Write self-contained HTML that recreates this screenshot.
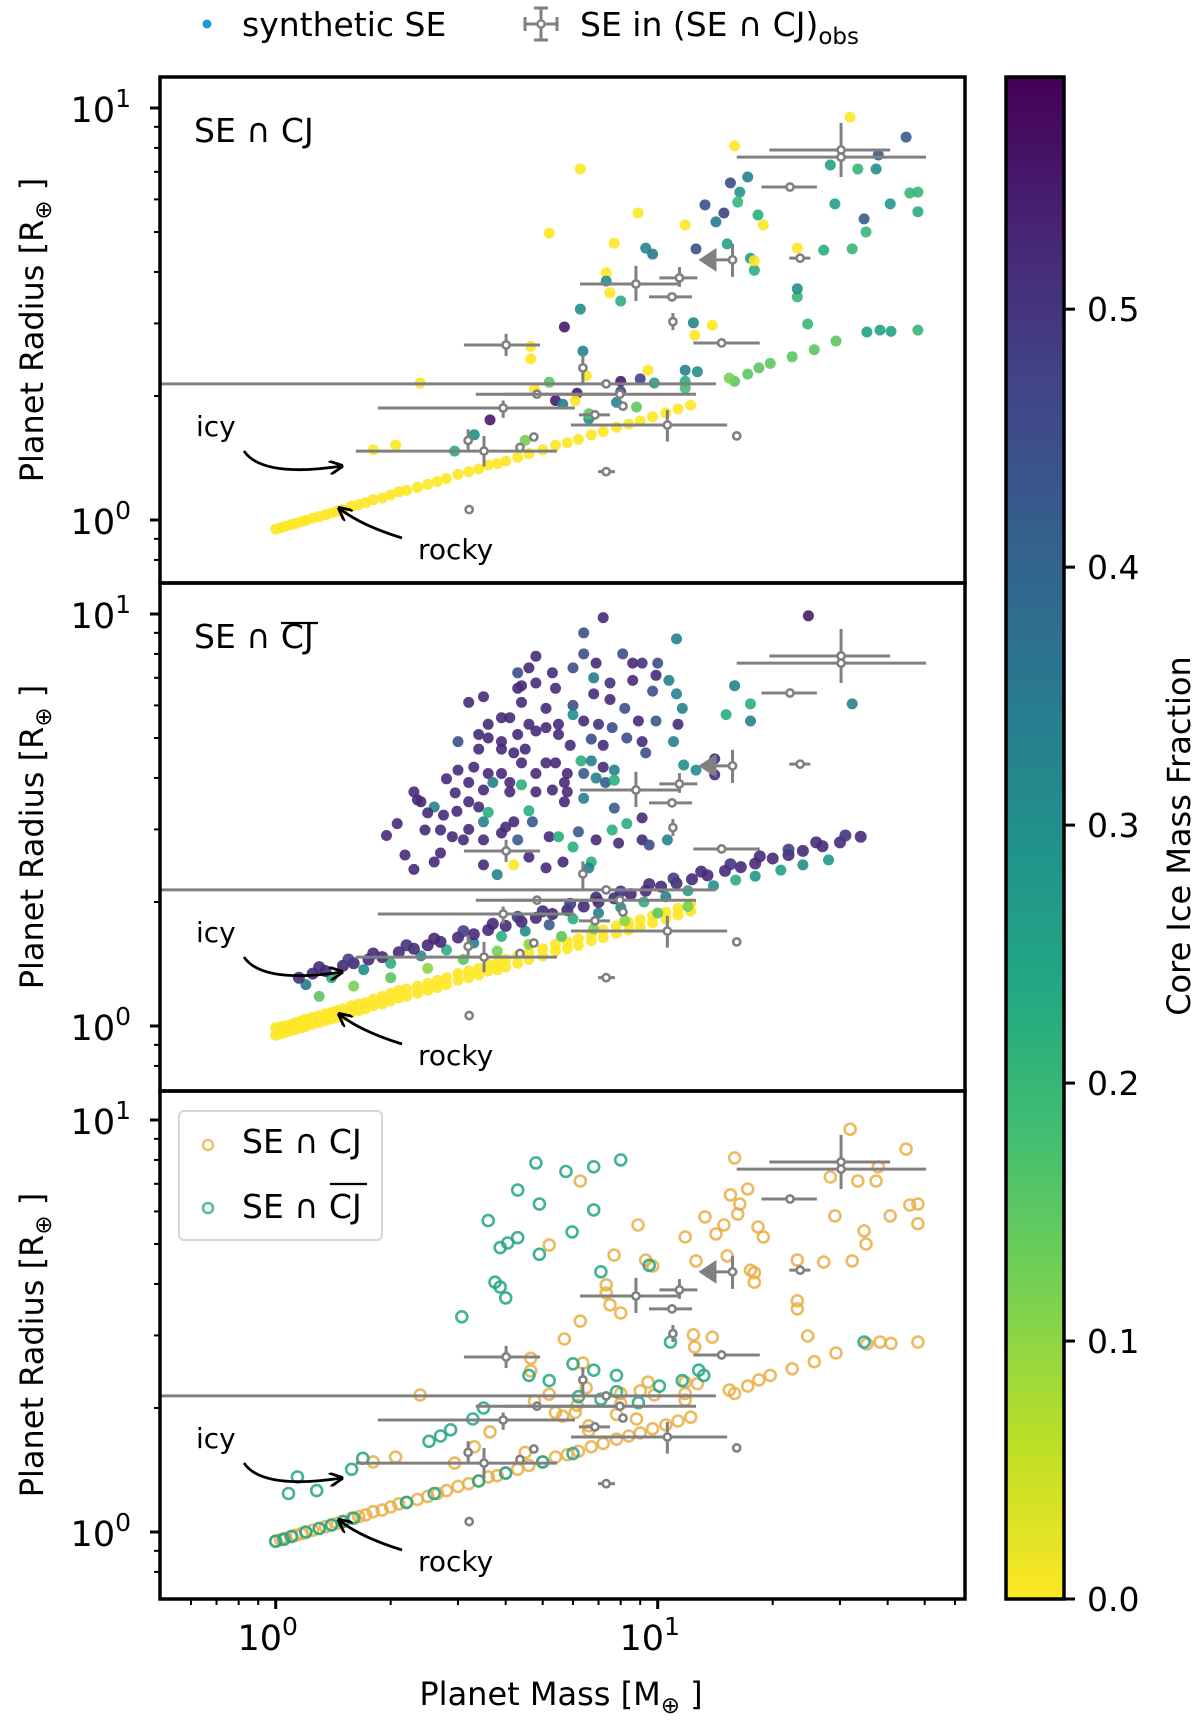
<!DOCTYPE html>
<html><head><meta charset="utf-8"><style>
html,body{margin:0;padding:0;background:#fff}
svg{display:block}
text{font-family:"DejaVu Sans","Liberation Sans",sans-serif;fill:#000}
</style></head><body>
<svg id="chart" width="1200" height="1727" viewBox="0 0 1200 1727" xmlns="http://www.w3.org/2000/svg">
<defs>
<linearGradient id="cbgrad" x1="0" y1="1" x2="0" y2="0">
<stop offset="0" stop-color="#fde725"/><stop offset="0.1" stop-color="#bddf26"/><stop offset="0.2" stop-color="#7ad151"/><stop offset="0.3" stop-color="#44bf70"/><stop offset="0.4" stop-color="#22a884"/><stop offset="0.5" stop-color="#21918c"/><stop offset="0.6" stop-color="#2a788e"/><stop offset="0.7" stop-color="#355f8d"/><stop offset="0.8" stop-color="#414487"/><stop offset="0.9" stop-color="#482475"/><stop offset="1" stop-color="#440154"/>
</linearGradient>
<marker id="arrow" viewBox="0 0 10 10" refX="9" refY="5" markerWidth="5" markerHeight="5" orient="auto"><path d="M0,0 L10,5 L0,10" fill="none" stroke="#000" stroke-width="2"/></marker>
<clipPath id="clip0"><rect x="160" y="79" width="805" height="504"/></clipPath>
<clipPath id="clip1"><rect x="160" y="585" width="805" height="504"/></clipPath>
<clipPath id="clip2"><rect x="160" y="1093" width="805" height="504"/></clipPath>
</defs>
<g id="layer"></g>
</svg>
<script>
// ---------------- data ----------------
const rockyM=[1.0,1.03,1.06,1.1,1.13,1.17,1.2,1.25,1.3,1.35,1.4,1.45,1.5,1.58,1.65,1.72,1.8,1.9,2.0,2.1,2.2,2.35,2.5,2.65,2.8,3.0,3.2,3.4,3.6,3.8,4.0,4.3,4.6,5.0,5.4,5.8,6.2,6.7,7.2,7.8,8.4,9.0,9.7,10.5,11.3,12.2];
const rockyR=[.95,.958,.965,.975,.982,.991,.998,1.01,1.02,1.03,1.04,1.05,1.06,1.08,1.09,1.10,1.12,1.13,1.15,1.17,1.18,1.20,1.22,1.24,1.26,1.29,1.31,1.33,1.36,1.37,1.39,1.42,1.45,1.48,1.52,1.54,1.57,1.61,1.64,1.68,1.71,1.74,1.78,1.82,1.86,1.90];
const rockyRHi=[.99,.996,1.00,1.01,1.02,1.03,1.04,1.05,1.06,1.07,1.08,1.09,1.10,1.12,1.13,1.14,1.16,1.18,1.20,1.22,1.23,1.25,1.27,1.29,1.31,1.34,1.36,1.38,1.41,1.42,1.45,1.48,1.51,1.54,1.58,1.60,1.63,1.67,1.71,1.75,1.78,1.81,1.85,1.89,1.93,1.98];
const cjM=[31.9,44.7,15.9,37.8,28.3,33.4,37.3,6.27,15.5,17.2,16.4,16.2,45.7,29.1,40.6,13.3,14.9,14.2,8.88,11.8,18.9,18.3,34.7,35.1,7.69,9.3,9.7,15.2,12.6,27.2,32.3,17.9,17.5,23.2,17.9,7.33,7.33,7.5,8.0,23.2,23.2,6.27,12.4,13.9,24.7,5.7,5.2,48,48,35.3,38.2,40.8,48,29.3,25.7,22.5,19.7,18.4,17.2,15.9,6.37,4.65,12.5,9.43,11.8,12.7,9.0,8.0,11.8,11.8,9.8,15.4,5.2,6.5,4.76,6.15,8.0,6.08,5.4,5.64,7.8,8.8,6.6,6.6,3.64,3.31,2.94,4.5,2.39,4.65,1.8,2.06];
const cjR=[9.5,8.5,8.09,7.69,7.27,7.11,7.11,7.11,6.58,6.8,6.25,5.91,6.22,5.85,5.85,5.82,5.56,5.29,5.56,5.2,5.2,5.5,5.38,5.0,4.7,4.57,4.42,4.68,4.55,4.52,4.55,4.04,4.32,4.57,4.26,3.98,3.8,3.56,3.4,3.48,3.64,3.25,3.01,2.97,2.99,2.94,4.97,6.25,5.6,2.86,2.89,2.87,2.89,2.72,2.59,2.49,2.4,2.34,2.26,2.17,2.57,2.64,2.81,2.31,2.31,2.29,2.2,2.17,2.17,2.09,2.15,2.21,2.16,2.24,2.08,2.03,2.05,1.95,1.95,1.91,1.93,1.88,1.76,1.81,1.75,1.61,1.47,1.56,2.15,2.46,1.48,1.52];
const cjC=[0,.42,0,.42,.25,.2,.3,0,.45,.33,.28,.2,.2,.25,.28,.45,.48,.35,0,0,0,.22,.42,.2,0,.32,.35,.25,.45,.22,.2,.22,.25,0,0,0,.3,0,.22,.2,.3,.3,.32,0,.2,.55,0,.2,.22,.25,.25,.25,.2,.15,.15,.15,.15,.15,.15,.15,.32,0,0,0,.33,.3,.48,.55,.22,.18,.25,.12,.15,0,0,.55,.45,0,.55,.35,.32,.15,.3,.15,.55,.3,.22,.12,0,0,0,0];
const cloudM=[7.2,6.4,11.2,6.4,8.1,4.8,6.9,8.6,9.1,10,4.6,5.3,6.0,4.3,6.8,8.6,9.9,10.7,4.8,4.4,7.5,5.4,4.3,9.7,6.8,3.2,3.5,4.4,5.1,6.0,7.5,11.2,8.2,11.6,3.9,4.1,4.6,5.1,5.5,6.0,6.4,7.0,7.6,8.9,9.9,11.3,3.6,3.4,3.6,3.9,4.3,4.8,5.5,5.9,6.7,7.2,8.3,9.1,11.0,3.0,3.4,3.9,4.2,4.5,5.1,5.4,6.3,6.7,7.2,9.3,11.7,3.0,3.3,3.6,3.9,4.4,4.8,5.8,6.4,7.7,2.8,3.2,3.7,4.1,4.4,5.7,6.9,7.3,7.7,2.3,2.95,3.5,4.1,4.8,5.3,5.8,2.35,2.4,2.6,3.2,3.4,5.7,6.4,7.7,2.5,2.75,2.98,3.6,4.2,4.6,4.7,9.1,2.08,2.46,2.7,2.9,3.2,3.5,3.9,4.0,1.95,3.1,3.5,4.3,5.2,5.5,6.0,6.2,6.9,7.6,7.9,8.3,9.1,9.5,10.6,2.18,2.3,2.6,2.7,3.5,3.8,4.2,4.6,5.1,5.65,6.7,6.6,24.8,32.3,17.5,17.5,15.1,15.9,12.6,14.1,14.1];
const cloudR=[9.8,9.0,8.7,8.0,8.0,7.9,7.6,7.6,7.6,7.6,7.4,7.2,7.4,7.2,7.0,6.9,7.1,6.9,6.8,6.7,6.8,6.6,6.6,6.5,6.4,6.1,6.3,6.1,5.9,6.0,6.2,6.4,5.9,5.9,5.6,5.6,5.4,5.3,5.4,5.7,5.5,5.4,5.3,5.5,5.5,5.4,5.4,5.1,5.0,4.9,5.1,5.2,5.1,4.8,4.97,4.8,5.0,4.9,4.9,4.9,4.7,4.7,4.6,4.7,4.35,4.35,4.4,4.4,4.25,4.6,4.3,4.18,4.25,4.1,4.1,4.35,4.1,4.1,4.1,4.18,3.98,3.9,3.9,3.9,3.85,3.9,4.0,3.9,3.95,3.7,3.68,3.74,3.7,3.7,3.74,3.7,3.54,3.5,3.4,3.5,3.4,3.5,3.57,3.38,3.29,3.25,3.32,3.3,3.13,3.33,3.13,3.2,3.1,2.99,2.99,2.88,3.0,3.13,2.94,3.04,2.9,2.83,2.83,2.83,2.88,2.88,2.72,2.96,2.83,2.99,2.78,3.1,2.83,2.75,2.83,2.6,2.4,2.5,2.63,2.46,2.33,2.46,2.57,2.42,2.5,2.5,2.42,9.9,6.05,6.05,5.5,5.7,6.7,4.18,4.45,4.07];
const cloudC=[.52,.45,.33,.45,.45,.52,.52,.52,.5,.45,.52,.52,.45,.45,.35,.52,.52,.33,.52,.52,.5,.52,.52,.45,.52,.52,.52,.52,.52,.45,.52,.33,.45,.33,.52,.52,.52,.52,.52,.3,.52,.5,.45,.52,.42,.52,.52,.52,.52,.52,.52,.52,.52,.52,.45,.52,.45,.52,.33,.45,.52,.52,.52,.52,.52,.52,.22,.33,.52,.45,.3,.52,.52,.52,.52,.52,.52,.52,.42,.33,.52,.52,.33,.52,.22,.52,.33,.42,.22,.52,.52,.52,.52,.52,.52,.52,.52,.52,.33,.52,.52,.52,.33,.42,.52,.52,.52,.22,.52,.22,.42,.52,.52,.52,.52,.52,.52,.33,.52,.52,.52,.52,.52,.42,.52,.22,.22,.42,.52,.22,.52,.22,.52,.45,.33,.52,.52,.52,.52,.52,.33,0,.52,.52,.52,.22,.33,.55,.33,.22,.33,.22,.33,.3];
const icyM=[1.15,1.25,1.35,1.5,1.6,1.75,1.9,2.1,2.3,2.5,2.7,3.0,3.3,3.6,4.0,4.4,4.8,5.3,5.8,6.4,7.0,7.7,8.5,9.3,10.2,11.2,12.3,13.5,15,16.5,18,20,22,24,27,30,34];
const icyR=[1.31,1.34,1.36,1.40,1.42,1.45,1.47,1.51,1.54,1.57,1.60,1.64,1.67,1.71,1.75,1.79,1.83,1.87,1.91,1.95,2.00,2.04,2.09,2.13,2.18,2.22,2.27,2.32,2.38,2.43,2.48,2.55,2.60,2.66,2.73,2.79,2.88];
const icyHiM=[1.3,1.55,1.8,2.2,2.6,3.1,3.7,4.3,5.0,5.9,6.9,8.0,9.5,11,13,15.5,18.5,22,26,31];
const icyHiR=[1.39,1.45,1.50,1.57,1.63,1.70,1.77,1.84,1.90,1.98,2.05,2.12,2.21,2.28,2.37,2.47,2.58,2.68,2.79,2.90];
const icyHiC=[.52,.48,.52,.5,.52,.48,.52,.5,.52,.48,.52,.5,.52,.48,.52,.5,.52,.48,.52,.5];
const icyLoM=[1.2,1.4,1.7,2.0,2.4,2.8,3.3,3.9,4.5,5.2,6.0,7.0,8.0,9.2,10.5,12,14,16,18,21,24,28];
const icyLoR=[1.26,1.31,1.37,1.42,1.48,1.53,1.59,1.65,1.70,1.76,1.82,1.88,1.94,2.00,2.06,2.13,2.19,2.26,2.31,2.39,2.46,2.53];
const icyLoC=[.35,.22,.3,.22,.3,.22,.33,.22,.3,.42,.22,.33,.3,.22,.33,.25,.3,.22,.28,.25,.3,.28];
const icy2M=[1.3,1.6,2.0,2.5,3.1,3.8,4.6,5.6,6.8,8.2,10,12];
const icy2R=[1.18,1.25,1.31,1.38,1.45,1.52,1.58,1.65,1.72,1.80,1.88,1.95];
const icy2C=[.15,.12,.15,.1,.15,.12,.1,.15,.12,.1,.15,.12];
const cjbM=[4.8,5.75,6.8,8.0,4.3,4.9,3.6,6.8,4.05,4.3,3.87,5.97,4.9,7.1,9.5,3.75,3.87,4.0,3.07,10.8,6.0,6.8,7.8,4.6,5.2,6.2,7.1,7.8,8.9,10.1,11.6,13.2,12.8,34.7,3.28,3.5,2.7,2.87,2.52,1.69,1.58,1.14,1.28,1.08,1.0,1.05,1.1,1.2,1.3,1.4,1.5,1.6,2.2,2.6,3.4,4.0,5.0,6.0];
const cjbR=[7.87,7.5,7.7,8.0,6.76,6.25,5.7,6.05,5.03,5.18,4.9,5.35,4.72,4.28,4.44,4.04,3.93,3.7,3.33,2.89,2.56,2.47,2.4,2.4,2.33,2.13,2.1,2.19,2.06,2.26,2.33,2.4,2.47,2.89,1.88,2.0,1.71,1.77,1.66,1.51,1.42,1.36,1.26,1.24,.95,.96,.975,1.0,1.02,1.04,1.06,1.08,1.18,1.24,1.33,1.39,1.48,1.55];
const obsM=[30.2,30.2,22.2,15.7,23.6,11.4,8.77,10.9,10.96,4.01,6.37,14.7,7.33,4.83,7.96,3.94,8.11,6.85,10.6,4.74,3.19,3.51,4.36,7.33,3.21,16.1];
const obsMlo=[19.6,16.1,18.7,13.1,22.1,10.1,6.26,9.49,10.96,3.11,6.37,12.4,0.3,3.34,3.98,1.85,8.11,6.22,5.93,4.74,3.19,1.62,4.36,6.98,3.21,16.1];
const obsMhi=[40.6,50.4,26.1,15.7,25.1,12.7,11.3,12.3,10.96,4.92,6.37,18.5,14.2,7.73,12.6,6.07,8.11,7.50,15.2,4.74,3.19,5.45,4.36,7.73,3.21,16.1];
const obsR=[7.91,7.6,6.43,4.28,4.32,3.87,3.74,3.48,3.03,2.66,2.34,2.69,2.14,2.02,2.02,1.87,1.89,1.80,1.70,1.59,1.56,1.47,1.50,1.31,1.06,1.60];
const obsRlo=[6.8,7.6,6.43,3.89,4.32,3.68,3.40,3.48,2.89,2.50,2.15,2.69,2.14,2.02,2.02,1.77,1.85,1.80,1.55,1.59,1.48,1.35,1.50,1.31,1.06,1.60];
const obsRhi=[9.2,7.6,6.43,4.68,4.32,4.11,4.14,3.48,3.18,2.83,2.51,2.69,2.14,2.02,2.02,1.95,1.93,1.80,1.85,1.59,1.66,1.60,1.50,1.31,1.06,1.60];
const obsUpperLimit=[0,0,0,1,0,0,0,0,0,0,0,0,0,0,0,0,0,0,0,0,0,0,0,0,0,0];
const cbTicks=[0.0,0.1,0.2,0.3,0.4,0.5];
const cbMax=0.59;
const xTickLabels=["0","1"];
// ---------------- scales ----------------
const NS="http://www.w3.org/2000/svg";
const X0=275.7, XD=382, YD=412;
const panelY0=[520,1026,1532];
const panelTop=[77,583,1091], panelBot=[583,1091,1599];
const PL=160, PR=965;
function xS(m){return X0+XD*Math.log10(m);}
function yS(r,p){return panelY0[p]-YD*Math.log10(r);}
const vir=["#fde725","#bddf26","#7ad151","#44bf70","#22a884","#21918c","#2a788e","#355f8d","#414487","#482475","#440154"];
function hex(h){return [parseInt(h.substr(1,2),16),parseInt(h.substr(3,2),16),parseInt(h.substr(5,2),16)];}
function cmap(c){if(!(c>=0))c=0.52;let t=Math.max(0,Math.min(1,c/cbMax))*10;let i=Math.min(9,Math.floor(t));let f=t-i;let a=hex(vir[i]),b=hex(vir[i+1]);return "rgb("+a.map((v,k)=>Math.round(v+(b[k]-v)*f)).join(",")+")";}
const layer=document.getElementById('layer');
function mk(tag,attrs,parent){const e=document.createElementNS(NS,tag);for(const k in attrs)e.setAttribute(k,attrs[k]);(parent||layer).appendChild(e);return e;}
const groups=[];
for(let p=0;p<3;p++){
  const g=mk('g',{'clip-path':'url(#clip'+p+')'});
  
  
  groups.push(g);
}
function ok(m,r){return m>0&&r>0;}
function dot(g,m,r,p,fill,rad,name){
  if(!ok(m,r))return;
  const c=mk('circle',{cx:xS(m).toFixed(1),cy:yS(r,p).toFixed(1),r:rad,fill:fill,'fill-opacity':0.9},g);
  
  
}
function ring(g,m,r,p,col,name){
  if(!ok(m,r))return;
  const c=mk('circle',{cx:xS(m).toFixed(1),cy:yS(r,p).toFixed(1),r:5.5,fill:'none',stroke:col,'stroke-width':2.6,'stroke-opacity':0.85},g);
  
  
}
// panel 1
for(let i=0;i<rockyM.length;i++)dot(groups[0],rockyM[i],rockyR[i],0,cmap(0),5.5,'synthetic-se-rocky');
for(let i=0;i<cjM.length;i++)dot(groups[0],cjM[i],cjR[i],0,cmap(cjC[i]),5.5,'synthetic-se-cj');
// panel 2
for(let i=0;i<rockyM.length;i++){dot(groups[1],rockyM[i],rockyR[i],1,cmap(0),5.5,'synthetic-se-rocky');dot(groups[1],rockyM[i],rockyRHi[i],1,cmap(0),5.5,'synthetic-se-rocky');}
for(let i=0;i<icy2M.length;i++)dot(groups[1],icy2M[i],icy2R[i],1,cmap(icy2C[i]),5.5,'synthetic-se-icy');
for(let i=0;i<icyLoM.length;i++)dot(groups[1],icyLoM[i],icyLoR[i],1,cmap(icyLoC[i]),5.5,'synthetic-se-icy');
for(let i=0;i<icyM.length;i++)dot(groups[1],icyM[i],icyR[i],1,cmap(0.52),6,'synthetic-se-icy');
for(let i=0;i<icyHiM.length;i++)dot(groups[1],icyHiM[i],icyHiR[i],1,cmap(icyHiC[i]),6,'synthetic-se-icy');
for(let i=0;i<cloudM.length;i++)dot(groups[1],cloudM[i],cloudR[i],1,cmap(cloudC[i]),5.5,'synthetic-se-cloud');
// panel 3
for(let i=0;i<rockyM.length;i++)ring(groups[2],rockyM[i],rockyR[i],2,'#e8ae45','se-cj-ring');
for(let i=0;i<cjM.length;i++)ring(groups[2],cjM[i],cjR[i],2,'#e8ae45','se-cj-ring');
for(let i=0;i<cjbM.length;i++)ring(groups[2],cjbM[i],cjbR[i],2,'#20a486','se-not-cj-ring');
// observations
for(let p=0;p<3;p++){
  const g=mk('g',{'clip-path':'url(#clip'+p+')'});
  
  
  for(let i=0;i<obsM.length;i++){
    const cx=xS(obsM[i]),cy=yS(obsR[i],p);
    const l1=mk('line',{x1:xS(obsMlo[i]),x2:xS(obsMhi[i]),y1:cy,y2:cy,stroke:'#808080','stroke-width':3},g);
    
    
    const l2=mk('line',{x1:cx,x2:cx,y1:yS(obsRlo[i],p),y2:yS(obsRhi[i],p),stroke:'#808080','stroke-width':3},g);
    
    
    if(obsUpperLimit[i]){
      const tx=xS(obsMlo[i]);
      const t=mk('path',{d:'M'+(tx-4)+','+cy+' L'+(tx+14)+','+(cy-12)+' L'+(tx+14)+','+(cy+12)+' Z',fill:'#808080'},g);
      
      
    }
    const c=mk('circle',{cx:cx,cy:cy,r:3.6,fill:'#fff',stroke:'#808080','stroke-width':2.6},g);
    
    
  }
}
// frames, ticks, labels
const minorY=[0.8,0.9,2,3,4,5,6,7,8,9];
const minorX=[0.6,0.7,0.8,0.9,2,3,4,5,6,7,8,9,20,30,40,50,60];
for(let p=0;p<3;p++){
  const f=mk('rect',{x:PL,y:panelTop[p],width:PR-PL,height:panelBot[p]-panelTop[p],fill:'none',stroke:'#000','stroke-width':3.5});
  
  
  [1,10].forEach((v,k)=>{
    const y=yS(v,p);
    const t=mk('line',{x1:PL-10,x2:PL,y1:y,y2:y,stroke:'#000','stroke-width':3});
    
    
    const tl=mk('text',{x:131,y:y+14,'font-size':35,'text-anchor':'end'});
    
    
    tl.innerHTML='10<tspan dy="-15" font-size="25">'+xTickLabels[k]+'</tspan>';
  });
  minorY.forEach(v=>{const y=yS(v,p);if(y>panelTop[p]+2&&y<panelBot[p]-2){const t=mk('line',{x1:PL-6,x2:PL,y1:y,y2:y,stroke:'#000','stroke-width':2});}});
  const yl=mk('text',{x:0,y:0,'font-size':32,'text-anchor':'middle',transform:'translate(43,'+((panelTop[p]+panelBot[p])/2)+') rotate(-90)'});
  
  
  yl.innerHTML='Planet Radius [R<tspan dy="8" font-size="23">⊕</tspan><tspan dy="-8"> ]</tspan>';
  const off=p*506;
  const it=mk('text',{x:196,y:436+off,'font-size':28});it.textContent='icy';
  
  const ia=mk('path',{d:'M244,'+(451+off)+' Q262,'+(478+off)+' 342,'+(466+off),fill:'none',stroke:'#000','stroke-width':2.8,'marker-end':'url(#arrow)'});
  
  const rt=mk('text',{x:418,y:559+off,'font-size':28});rt.textContent='rocky';
  
  const ra=mk('path',{d:'M402,'+(538+off)+' Q360,'+(525+off)+' 339,'+(508+off),fill:'none',stroke:'#000','stroke-width':2.8,'marker-end':'url(#arrow)'});
  
}
[1,10].forEach((v,k)=>{
  const x=xS(v);
  const t=mk('line',{x1:x,x2:x,y1:1599,y2:1609,stroke:'#000','stroke-width':3});
  
  const tl=mk('text',{x:x-8,y:1650,'font-size':35,'text-anchor':'middle'});
  
  tl.innerHTML='10<tspan dy="-15" font-size="25">'+xTickLabels[k]+'</tspan>';
});
minorX.forEach(v=>{const x=xS(v);if(x>PL+2&&x<PR-2){const t=mk('line',{x1:x,x2:x,y1:1599,y2:1605,stroke:'#000','stroke-width':2});}});
const cbTop=77,cbBot=1599;
const cb=mk('rect',{x:1006,y:cbTop,width:58,height:cbBot-cbTop,fill:'url(#cbgrad)',stroke:'#000','stroke-width':3.5});

cbTicks.forEach(v=>{
  const y=cbBot-(cbBot-cbTop)*v/cbMax;
  const t=mk('line',{x1:1064,x2:1075,y1:y,y2:y,stroke:'#000','stroke-width':3});
  
  const tl=mk('text',{x:1087,y:y+12,'font-size':33});tl.textContent=v.toFixed(1);
  
});
</script>
<svg style="position:absolute;left:0;top:0" width="1200" height="1727" viewBox="0 0 1200 1727" xmlns="http://www.w3.org/2000/svg">
<text x="1190" y="836" font-size="32" text-anchor="middle" transform="rotate(-90 1190 836)">Core Ice Mass Fraction</text>
<text x="561" y="1705" font-size="32" text-anchor="middle">Planet Mass [M<tspan dy="8" font-size="23">⊕</tspan><tspan dy="-8"> ]</tspan></text>
<text x="194" y="142" font-size="33">SE ∩ CJ</text>
<text x="194" y="648" font-size="33">SE ∩ CJ</text>
<line x1="281" x2="318" y1="623" y2="623" stroke="#000" stroke-width="2.2"/>
<g>
<rect x="179" y="1111" width="203" height="129" rx="5" fill="#fff" fill-opacity="0.85" stroke="#d6d6d6" stroke-width="2"/>
<circle cx="208" cy="1145" r="5" fill="none" stroke="#ecc070" stroke-width="2.6"/>
<text x="242" y="1153" font-size="33">SE ∩ CJ</text>
<circle cx="208" cy="1208" r="5" fill="none" stroke="#4fc49a" stroke-width="2.6"/>
<text x="242" y="1218" font-size="33">SE ∩ CJ</text>
<line x1="330" x2="367" y1="1184" y2="1184" stroke="#000" stroke-width="2.2"/>
</g>
<g>
<circle cx="207" cy="24" r="4.5" fill="#1f9ad6"/>
<text x="242" y="36" font-size="33">synthetic SE</text>
<g stroke="#808080" stroke-width="3">
<line x1="541" x2="541" y1="8" y2="40"/><line x1="534" x2="548" y1="8" y2="8"/><line x1="534" x2="548" y1="40" y2="40"/>
<line x1="525" x2="557" y1="24" y2="24"/><line x1="525" x2="525" y1="17" y2="31"/><line x1="557" x2="557" y1="17" y2="31"/>
<circle cx="541" cy="24" r="3.6" fill="#fff" stroke-width="2.4"/>
</g>
<text x="580" y="36" font-size="33">SE in (SE ∩ CJ)<tspan dy="8" font-size="23">obs</tspan></text>
</g>
</svg>
</body></html>
